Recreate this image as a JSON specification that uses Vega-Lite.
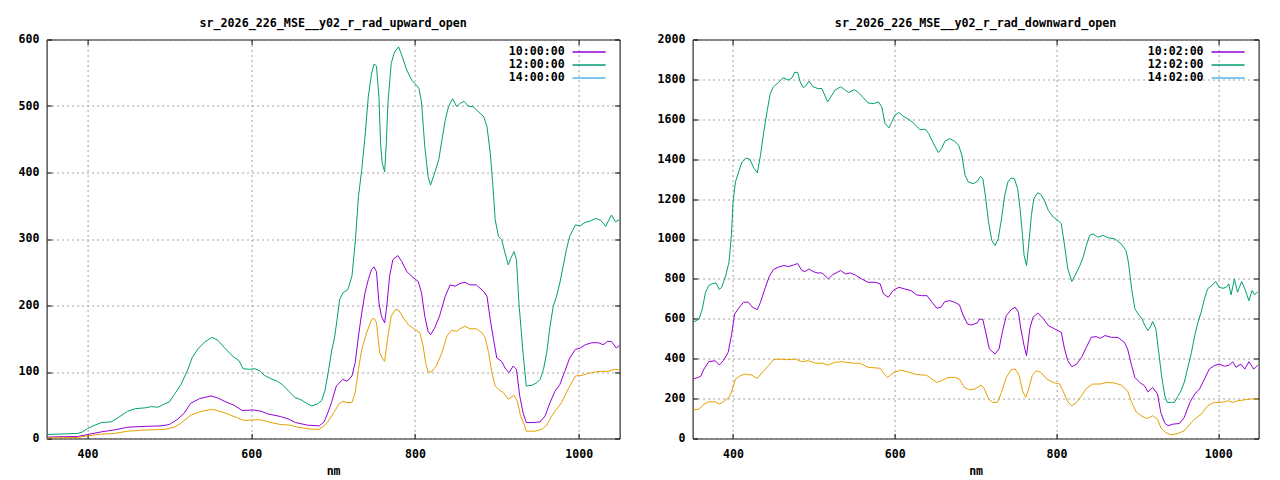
{
  "$schema": "https://vega.github.io/schema/vega-lite/v6.json",
  "padding": {"left": 16.6, "top": 16.5, "right": 0, "bottom": 0},
  "background": "white",
  "datasets": {
    "up": [
      {"t": "10:00:00", "nm": 350, "v": 2}, {"t": "10:00:00", "nm": 360, "v": 2.5}, {"t": "10:00:00", "nm": 388, "v": 3}, {"t": "10:00:00", "nm": 400, "v": 6},
      {"t": "10:00:00", "nm": 417, "v": 10}, {"t": "10:00:00", "nm": 433, "v": 13}, {"t": "10:00:00", "nm": 449, "v": 17}, {"t": "10:00:00", "nm": 465, "v": 18},
      {"t": "10:00:00", "nm": 490, "v": 19}, {"t": "10:00:00", "nm": 500, "v": 21}, {"t": "10:00:00", "nm": 510, "v": 29}, {"t": "10:00:00", "nm": 518, "v": 38},
      {"t": "10:00:00", "nm": 526, "v": 53}, {"t": "10:00:00", "nm": 537, "v": 60}, {"t": "10:00:00", "nm": 551, "v": 64}, {"t": "10:00:00", "nm": 559, "v": 61},
      {"t": "10:00:00", "nm": 569, "v": 55}, {"t": "10:00:00", "nm": 579, "v": 50}, {"t": "10:00:00", "nm": 589, "v": 42}, {"t": "10:00:00", "nm": 602, "v": 43},
      {"t": "10:00:00", "nm": 612, "v": 41}, {"t": "10:00:00", "nm": 620, "v": 37}, {"t": "10:00:00", "nm": 636, "v": 33}, {"t": "10:00:00", "nm": 646, "v": 29},
      {"t": "10:00:00", "nm": 654, "v": 24}, {"t": "10:00:00", "nm": 669, "v": 20}, {"t": "10:00:00", "nm": 683, "v": 19}, {"t": "10:00:00", "nm": 689, "v": 25},
      {"t": "10:00:00", "nm": 694, "v": 40}, {"t": "10:00:00", "nm": 698, "v": 54}, {"t": "10:00:00", "nm": 704, "v": 79}, {"t": "10:00:00", "nm": 712, "v": 89},
      {"t": "10:00:00", "nm": 717, "v": 86}, {"t": "10:00:00", "nm": 723, "v": 94}, {"t": "10:00:00", "nm": 727, "v": 114}, {"t": "10:00:00", "nm": 731, "v": 154},
      {"t": "10:00:00", "nm": 735, "v": 189}, {"t": "10:00:00", "nm": 739, "v": 219}, {"t": "10:00:00", "nm": 743, "v": 239}, {"t": "10:00:00", "nm": 747, "v": 254},
      {"t": "10:00:00", "nm": 750, "v": 258}, {"t": "10:00:00", "nm": 753, "v": 251}, {"t": "10:00:00", "nm": 756, "v": 204}, {"t": "10:00:00", "nm": 759, "v": 184},
      {"t": "10:00:00", "nm": 763, "v": 174}, {"t": "10:00:00", "nm": 766, "v": 204}, {"t": "10:00:00", "nm": 769, "v": 244}, {"t": "10:00:00", "nm": 773, "v": 269},
      {"t": "10:00:00", "nm": 779, "v": 275}, {"t": "10:00:00", "nm": 784, "v": 266}, {"t": "10:00:00", "nm": 790, "v": 251}, {"t": "10:00:00", "nm": 796, "v": 244},
      {"t": "10:00:00", "nm": 804, "v": 236}, {"t": "10:00:00", "nm": 808, "v": 219}, {"t": "10:00:00", "nm": 812, "v": 184}, {"t": "10:00:00", "nm": 816, "v": 161},
      {"t": "10:00:00", "nm": 819, "v": 156}, {"t": "10:00:00", "nm": 824, "v": 166}, {"t": "10:00:00", "nm": 830, "v": 184}, {"t": "10:00:00", "nm": 837, "v": 214},
      {"t": "10:00:00", "nm": 843, "v": 231}, {"t": "10:00:00", "nm": 849, "v": 229}, {"t": "10:00:00", "nm": 855, "v": 233}, {"t": "10:00:00", "nm": 861, "v": 235},
      {"t": "10:00:00", "nm": 867, "v": 231}, {"t": "10:00:00", "nm": 875, "v": 231}, {"t": "10:00:00", "nm": 884, "v": 221}, {"t": "10:00:00", "nm": 888, "v": 214},
      {"t": "10:00:00", "nm": 892, "v": 179}, {"t": "10:00:00", "nm": 896, "v": 149}, {"t": "10:00:00", "nm": 900, "v": 121}, {"t": "10:00:00", "nm": 906, "v": 116},
      {"t": "10:00:00", "nm": 910, "v": 106}, {"t": "10:00:00", "nm": 915, "v": 99}, {"t": "10:00:00", "nm": 920, "v": 109}, {"t": "10:00:00", "nm": 924, "v": 104},
      {"t": "10:00:00", "nm": 928, "v": 64}, {"t": "10:00:00", "nm": 932, "v": 39}, {"t": "10:00:00", "nm": 936, "v": 24}, {"t": "10:00:00", "nm": 945, "v": 24},
      {"t": "10:00:00", "nm": 953, "v": 25}, {"t": "10:00:00", "nm": 959, "v": 34}, {"t": "10:00:00", "nm": 965, "v": 54}, {"t": "10:00:00", "nm": 971, "v": 71},
      {"t": "10:00:00", "nm": 977, "v": 81}, {"t": "10:00:00", "nm": 983, "v": 101}, {"t": "10:00:00", "nm": 989, "v": 121}, {"t": "10:00:00", "nm": 996, "v": 134},
      {"t": "10:00:00", "nm": 1002, "v": 136}, {"t": "10:00:00", "nm": 1008, "v": 141}, {"t": "10:00:00", "nm": 1016, "v": 144}, {"t": "10:00:00", "nm": 1024, "v": 144},
      {"t": "10:00:00", "nm": 1030, "v": 141}, {"t": "10:00:00", "nm": 1035, "v": 146}, {"t": "10:00:00", "nm": 1040, "v": 146}, {"t": "10:00:00", "nm": 1046, "v": 136},
      {"t": "10:00:00", "nm": 1050, "v": 140},
      {"t": "12:00:00", "nm": 350, "v": 6}, {"t": "12:00:00", "nm": 364, "v": 6.6}, {"t": "12:00:00", "nm": 388, "v": 7.6}, {"t": "12:00:00", "nm": 394, "v": 10},
      {"t": "12:00:00", "nm": 400, "v": 15}, {"t": "12:00:00", "nm": 409, "v": 20}, {"t": "12:00:00", "nm": 417, "v": 24}, {"t": "12:00:00", "nm": 429, "v": 25},
      {"t": "12:00:00", "nm": 437, "v": 31}, {"t": "12:00:00", "nm": 449, "v": 41}, {"t": "12:00:00", "nm": 459, "v": 45}, {"t": "12:00:00", "nm": 470, "v": 46},
      {"t": "12:00:00", "nm": 478, "v": 48}, {"t": "12:00:00", "nm": 486, "v": 47}, {"t": "12:00:00", "nm": 494, "v": 52}, {"t": "12:00:00", "nm": 500, "v": 55},
      {"t": "12:00:00", "nm": 506, "v": 66}, {"t": "12:00:00", "nm": 514, "v": 81}, {"t": "12:00:00", "nm": 522, "v": 102}, {"t": "12:00:00", "nm": 528, "v": 122},
      {"t": "12:00:00", "nm": 535, "v": 135}, {"t": "12:00:00", "nm": 543, "v": 145}, {"t": "12:00:00", "nm": 552, "v": 152}, {"t": "12:00:00", "nm": 559, "v": 148},
      {"t": "12:00:00", "nm": 567, "v": 137}, {"t": "12:00:00", "nm": 577, "v": 124}, {"t": "12:00:00", "nm": 585, "v": 117}, {"t": "12:00:00", "nm": 590, "v": 105},
      {"t": "12:00:00", "nm": 598, "v": 104}, {"t": "12:00:00", "nm": 604, "v": 105}, {"t": "12:00:00", "nm": 610, "v": 102}, {"t": "12:00:00", "nm": 616, "v": 95},
      {"t": "12:00:00", "nm": 624, "v": 90}, {"t": "12:00:00", "nm": 632, "v": 86}, {"t": "12:00:00", "nm": 638, "v": 81}, {"t": "12:00:00", "nm": 646, "v": 71},
      {"t": "12:00:00", "nm": 653, "v": 62}, {"t": "12:00:00", "nm": 661, "v": 58}, {"t": "12:00:00", "nm": 669, "v": 52}, {"t": "12:00:00", "nm": 674, "v": 49},
      {"t": "12:00:00", "nm": 681, "v": 52}, {"t": "12:00:00", "nm": 686, "v": 57}, {"t": "12:00:00", "nm": 690, "v": 72}, {"t": "12:00:00", "nm": 694, "v": 99},
      {"t": "12:00:00", "nm": 698, "v": 130}, {"t": "12:00:00", "nm": 702, "v": 154}, {"t": "12:00:00", "nm": 705, "v": 180}, {"t": "12:00:00", "nm": 708, "v": 209},
      {"t": "12:00:00", "nm": 712, "v": 219}, {"t": "12:00:00", "nm": 718, "v": 224}, {"t": "12:00:00", "nm": 723, "v": 244}, {"t": "12:00:00", "nm": 727, "v": 294},
      {"t": "12:00:00", "nm": 731, "v": 364}, {"t": "12:00:00", "nm": 735, "v": 404}, {"t": "12:00:00", "nm": 739, "v": 454}, {"t": "12:00:00", "nm": 743, "v": 514},
      {"t": "12:00:00", "nm": 747, "v": 549}, {"t": "12:00:00", "nm": 750, "v": 563}, {"t": "12:00:00", "nm": 753, "v": 560}, {"t": "12:00:00", "nm": 756, "v": 514},
      {"t": "12:00:00", "nm": 758, "v": 444}, {"t": "12:00:00", "nm": 760, "v": 414}, {"t": "12:00:00", "nm": 763, "v": 401}, {"t": "12:00:00", "nm": 765, "v": 444},
      {"t": "12:00:00", "nm": 767, "v": 504}, {"t": "12:00:00", "nm": 771, "v": 564}, {"t": "12:00:00", "nm": 775, "v": 581}, {"t": "12:00:00", "nm": 780, "v": 589},
      {"t": "12:00:00", "nm": 784, "v": 576}, {"t": "12:00:00", "nm": 790, "v": 554}, {"t": "12:00:00", "nm": 796, "v": 539}, {"t": "12:00:00", "nm": 802, "v": 531},
      {"t": "12:00:00", "nm": 805, "v": 526}, {"t": "12:00:00", "nm": 808, "v": 506}, {"t": "12:00:00", "nm": 812, "v": 439}, {"t": "12:00:00", "nm": 816, "v": 394},
      {"t": "12:00:00", "nm": 819, "v": 381}, {"t": "12:00:00", "nm": 824, "v": 399}, {"t": "12:00:00", "nm": 829, "v": 419}, {"t": "12:00:00", "nm": 833, "v": 449},
      {"t": "12:00:00", "nm": 837, "v": 479}, {"t": "12:00:00", "nm": 841, "v": 499}, {"t": "12:00:00", "nm": 846, "v": 511}, {"t": "12:00:00", "nm": 851, "v": 499},
      {"t": "12:00:00", "nm": 855, "v": 504}, {"t": "12:00:00", "nm": 860, "v": 507}, {"t": "12:00:00", "nm": 865, "v": 500}, {"t": "12:00:00", "nm": 871, "v": 499},
      {"t": "12:00:00", "nm": 877, "v": 492}, {"t": "12:00:00", "nm": 884, "v": 484}, {"t": "12:00:00", "nm": 888, "v": 469}, {"t": "12:00:00", "nm": 892, "v": 429},
      {"t": "12:00:00", "nm": 895, "v": 384}, {"t": "12:00:00", "nm": 898, "v": 329}, {"t": "12:00:00", "nm": 902, "v": 304}, {"t": "12:00:00", "nm": 906, "v": 299},
      {"t": "12:00:00", "nm": 910, "v": 279}, {"t": "12:00:00", "nm": 914, "v": 261}, {"t": "12:00:00", "nm": 917, "v": 271}, {"t": "12:00:00", "nm": 921, "v": 281},
      {"t": "12:00:00", "nm": 924, "v": 269}, {"t": "12:00:00", "nm": 927, "v": 204}, {"t": "12:00:00", "nm": 932, "v": 129}, {"t": "12:00:00", "nm": 936, "v": 79},
      {"t": "12:00:00", "nm": 943, "v": 80}, {"t": "12:00:00", "nm": 949, "v": 84}, {"t": "12:00:00", "nm": 953, "v": 89}, {"t": "12:00:00", "nm": 957, "v": 104},
      {"t": "12:00:00", "nm": 961, "v": 129}, {"t": "12:00:00", "nm": 965, "v": 169}, {"t": "12:00:00", "nm": 969, "v": 199}, {"t": "12:00:00", "nm": 973, "v": 214},
      {"t": "12:00:00", "nm": 977, "v": 234}, {"t": "12:00:00", "nm": 981, "v": 259}, {"t": "12:00:00", "nm": 985, "v": 284}, {"t": "12:00:00", "nm": 989, "v": 304},
      {"t": "12:00:00", "nm": 996, "v": 321}, {"t": "12:00:00", "nm": 1002, "v": 320}, {"t": "12:00:00", "nm": 1008, "v": 325}, {"t": "12:00:00", "nm": 1014, "v": 327},
      {"t": "12:00:00", "nm": 1021, "v": 331}, {"t": "12:00:00", "nm": 1027, "v": 328}, {"t": "12:00:00", "nm": 1033, "v": 319}, {"t": "12:00:00", "nm": 1040, "v": 336},
      {"t": "12:00:00", "nm": 1045, "v": 326}, {"t": "12:00:00", "nm": 1050, "v": 329},
      {"t": "14:00:00", "nm": 350, "v": 1}, {"t": "14:00:00", "nm": 388, "v": 1.5}, {"t": "14:00:00", "nm": 400, "v": 4}, {"t": "14:00:00", "nm": 417, "v": 6.6},
      {"t": "14:00:00", "nm": 433, "v": 7.6}, {"t": "14:00:00", "nm": 449, "v": 11}, {"t": "14:00:00", "nm": 470, "v": 12.7}, {"t": "14:00:00", "nm": 494, "v": 13.7},
      {"t": "14:00:00", "nm": 506, "v": 17}, {"t": "14:00:00", "nm": 514, "v": 23}, {"t": "14:00:00", "nm": 526, "v": 35}, {"t": "14:00:00", "nm": 537, "v": 40},
      {"t": "14:00:00", "nm": 551, "v": 44}, {"t": "14:00:00", "nm": 559, "v": 42}, {"t": "14:00:00", "nm": 571, "v": 37}, {"t": "14:00:00", "nm": 583, "v": 31},
      {"t": "14:00:00", "nm": 592, "v": 27}, {"t": "14:00:00", "nm": 600, "v": 28}, {"t": "14:00:00", "nm": 612, "v": 28}, {"t": "14:00:00", "nm": 624, "v": 24},
      {"t": "14:00:00", "nm": 636, "v": 21}, {"t": "14:00:00", "nm": 648, "v": 20}, {"t": "14:00:00", "nm": 657, "v": 17}, {"t": "14:00:00", "nm": 673, "v": 14},
      {"t": "14:00:00", "nm": 683, "v": 14}, {"t": "14:00:00", "nm": 689, "v": 19}, {"t": "14:00:00", "nm": 694, "v": 26}, {"t": "14:00:00", "nm": 702, "v": 41},
      {"t": "14:00:00", "nm": 707, "v": 52}, {"t": "14:00:00", "nm": 712, "v": 56}, {"t": "14:00:00", "nm": 717, "v": 54}, {"t": "14:00:00", "nm": 723, "v": 54},
      {"t": "14:00:00", "nm": 727, "v": 69}, {"t": "14:00:00", "nm": 731, "v": 104}, {"t": "14:00:00", "nm": 735, "v": 134}, {"t": "14:00:00", "nm": 741, "v": 159},
      {"t": "14:00:00", "nm": 747, "v": 179}, {"t": "14:00:00", "nm": 750, "v": 181}, {"t": "14:00:00", "nm": 753, "v": 174}, {"t": "14:00:00", "nm": 757, "v": 129},
      {"t": "14:00:00", "nm": 760, "v": 121}, {"t": "14:00:00", "nm": 763, "v": 116}, {"t": "14:00:00", "nm": 767, "v": 154}, {"t": "14:00:00", "nm": 771, "v": 184},
      {"t": "14:00:00", "nm": 776, "v": 194}, {"t": "14:00:00", "nm": 780, "v": 193}, {"t": "14:00:00", "nm": 786, "v": 181}, {"t": "14:00:00", "nm": 792, "v": 171},
      {"t": "14:00:00", "nm": 800, "v": 164}, {"t": "14:00:00", "nm": 806, "v": 159}, {"t": "14:00:00", "nm": 810, "v": 139}, {"t": "14:00:00", "nm": 813, "v": 114},
      {"t": "14:00:00", "nm": 816, "v": 100}, {"t": "14:00:00", "nm": 820, "v": 100}, {"t": "14:00:00", "nm": 826, "v": 109}, {"t": "14:00:00", "nm": 833, "v": 129},
      {"t": "14:00:00", "nm": 839, "v": 154}, {"t": "14:00:00", "nm": 845, "v": 163}, {"t": "14:00:00", "nm": 851, "v": 161}, {"t": "14:00:00", "nm": 855, "v": 165},
      {"t": "14:00:00", "nm": 861, "v": 169}, {"t": "14:00:00", "nm": 867, "v": 165}, {"t": "14:00:00", "nm": 875, "v": 165}, {"t": "14:00:00", "nm": 882, "v": 159},
      {"t": "14:00:00", "nm": 886, "v": 151}, {"t": "14:00:00", "nm": 890, "v": 129}, {"t": "14:00:00", "nm": 894, "v": 99}, {"t": "14:00:00", "nm": 898, "v": 79},
      {"t": "14:00:00", "nm": 902, "v": 74}, {"t": "14:00:00", "nm": 908, "v": 69}, {"t": "14:00:00", "nm": 914, "v": 59}, {"t": "14:00:00", "nm": 921, "v": 65},
      {"t": "14:00:00", "nm": 925, "v": 56}, {"t": "14:00:00", "nm": 929, "v": 34}, {"t": "14:00:00", "nm": 934, "v": 19}, {"t": "14:00:00", "nm": 936, "v": 11},
      {"t": "14:00:00", "nm": 947, "v": 11}, {"t": "14:00:00", "nm": 955, "v": 14}, {"t": "14:00:00", "nm": 961, "v": 20}, {"t": "14:00:00", "nm": 967, "v": 34},
      {"t": "14:00:00", "nm": 973, "v": 44}, {"t": "14:00:00", "nm": 979, "v": 54}, {"t": "14:00:00", "nm": 987, "v": 74}, {"t": "14:00:00", "nm": 996, "v": 94},
      {"t": "14:00:00", "nm": 1004, "v": 95}, {"t": "14:00:00", "nm": 1012, "v": 98}, {"t": "14:00:00", "nm": 1020, "v": 100}, {"t": "14:00:00", "nm": 1028, "v": 101},
      {"t": "14:00:00", "nm": 1036, "v": 101}, {"t": "14:00:00", "nm": 1044, "v": 104}, {"t": "14:00:00", "nm": 1050, "v": 103}
    ],
    "down": [
      {"t": "10:02:00", "nm": 351, "v": 298}, {"t": "10:02:00", "nm": 360, "v": 311}, {"t": "10:02:00", "nm": 364, "v": 348}, {"t": "10:02:00", "nm": 370, "v": 385},
      {"t": "10:02:00", "nm": 378, "v": 390}, {"t": "10:02:00", "nm": 383, "v": 368}, {"t": "10:02:00", "nm": 388, "v": 390}, {"t": "10:02:00", "nm": 394, "v": 432},
      {"t": "10:02:00", "nm": 398, "v": 516}, {"t": "10:02:00", "nm": 402, "v": 624}, {"t": "10:02:00", "nm": 407, "v": 653}, {"t": "10:02:00", "nm": 413, "v": 683},
      {"t": "10:02:00", "nm": 419, "v": 683}, {"t": "10:02:00", "nm": 424, "v": 658}, {"t": "10:02:00", "nm": 430, "v": 646}, {"t": "10:02:00", "nm": 434, "v": 683},
      {"t": "10:02:00", "nm": 440, "v": 758}, {"t": "10:02:00", "nm": 445, "v": 814}, {"t": "10:02:00", "nm": 450, "v": 847}, {"t": "10:02:00", "nm": 456, "v": 859},
      {"t": "10:02:00", "nm": 463, "v": 867}, {"t": "10:02:00", "nm": 469, "v": 862}, {"t": "10:02:00", "nm": 475, "v": 870}, {"t": "10:02:00", "nm": 480, "v": 877},
      {"t": "10:02:00", "nm": 485, "v": 842}, {"t": "10:02:00", "nm": 489, "v": 837}, {"t": "10:02:00", "nm": 494, "v": 850}, {"t": "10:02:00", "nm": 499, "v": 837},
      {"t": "10:02:00", "nm": 504, "v": 830}, {"t": "10:02:00", "nm": 510, "v": 830}, {"t": "10:02:00", "nm": 518, "v": 800}, {"t": "10:02:00", "nm": 523, "v": 820},
      {"t": "10:02:00", "nm": 533, "v": 842}, {"t": "10:02:00", "nm": 539, "v": 825}, {"t": "10:02:00", "nm": 545, "v": 830}, {"t": "10:02:00", "nm": 551, "v": 820},
      {"t": "10:02:00", "nm": 559, "v": 800}, {"t": "10:02:00", "nm": 567, "v": 783}, {"t": "10:02:00", "nm": 576, "v": 783}, {"t": "10:02:00", "nm": 582, "v": 775},
      {"t": "10:02:00", "nm": 586, "v": 725}, {"t": "10:02:00", "nm": 592, "v": 708}, {"t": "10:02:00", "nm": 598, "v": 742}, {"t": "10:02:00", "nm": 605, "v": 758},
      {"t": "10:02:00", "nm": 612, "v": 750}, {"t": "10:02:00", "nm": 620, "v": 742}, {"t": "10:02:00", "nm": 627, "v": 720}, {"t": "10:02:00", "nm": 633, "v": 716},
      {"t": "10:02:00", "nm": 640, "v": 716}, {"t": "10:02:00", "nm": 646, "v": 683}, {"t": "10:02:00", "nm": 652, "v": 653}, {"t": "10:02:00", "nm": 657, "v": 658},
      {"t": "10:02:00", "nm": 662, "v": 686}, {"t": "10:02:00", "nm": 668, "v": 691}, {"t": "10:02:00", "nm": 674, "v": 683}, {"t": "10:02:00", "nm": 680, "v": 670},
      {"t": "10:02:00", "nm": 684, "v": 624}, {"t": "10:02:00", "nm": 690, "v": 574}, {"t": "10:02:00", "nm": 695, "v": 569}, {"t": "10:02:00", "nm": 702, "v": 579},
      {"t": "10:02:00", "nm": 705, "v": 599}, {"t": "10:02:00", "nm": 709, "v": 596}, {"t": "10:02:00", "nm": 713, "v": 524}, {"t": "10:02:00", "nm": 717, "v": 449},
      {"t": "10:02:00", "nm": 724, "v": 424}, {"t": "10:02:00", "nm": 729, "v": 449}, {"t": "10:02:00", "nm": 733, "v": 532}, {"t": "10:02:00", "nm": 738, "v": 616},
      {"t": "10:02:00", "nm": 744, "v": 646}, {"t": "10:02:00", "nm": 749, "v": 658}, {"t": "10:02:00", "nm": 753, "v": 633}, {"t": "10:02:00", "nm": 756, "v": 549},
      {"t": "10:02:00", "nm": 760, "v": 465}, {"t": "10:02:00", "nm": 763, "v": 415}, {"t": "10:02:00", "nm": 767, "v": 549}, {"t": "10:02:00", "nm": 771, "v": 608},
      {"t": "10:02:00", "nm": 777, "v": 629}, {"t": "10:02:00", "nm": 784, "v": 599}, {"t": "10:02:00", "nm": 790, "v": 566}, {"t": "10:02:00", "nm": 798, "v": 549},
      {"t": "10:02:00", "nm": 806, "v": 532}, {"t": "10:02:00", "nm": 810, "v": 449}, {"t": "10:02:00", "nm": 814, "v": 390}, {"t": "10:02:00", "nm": 819, "v": 360},
      {"t": "10:02:00", "nm": 825, "v": 373}, {"t": "10:02:00", "nm": 831, "v": 407}, {"t": "10:02:00", "nm": 837, "v": 457}, {"t": "10:02:00", "nm": 843, "v": 507},
      {"t": "10:02:00", "nm": 849, "v": 511}, {"t": "10:02:00", "nm": 854, "v": 502}, {"t": "10:02:00", "nm": 860, "v": 516}, {"t": "10:02:00", "nm": 868, "v": 507},
      {"t": "10:02:00", "nm": 876, "v": 507}, {"t": "10:02:00", "nm": 884, "v": 482}, {"t": "10:02:00", "nm": 888, "v": 449}, {"t": "10:02:00", "nm": 893, "v": 365},
      {"t": "10:02:00", "nm": 897, "v": 306}, {"t": "10:02:00", "nm": 903, "v": 281}, {"t": "10:02:00", "nm": 909, "v": 264}, {"t": "10:02:00", "nm": 913, "v": 234},
      {"t": "10:02:00", "nm": 919, "v": 256}, {"t": "10:02:00", "nm": 925, "v": 223}, {"t": "10:02:00", "nm": 929, "v": 131}, {"t": "10:02:00", "nm": 934, "v": 77},
      {"t": "10:02:00", "nm": 938, "v": 64}, {"t": "10:02:00", "nm": 944, "v": 72}, {"t": "10:02:00", "nm": 952, "v": 75}, {"t": "10:02:00", "nm": 958, "v": 105},
      {"t": "10:02:00", "nm": 965, "v": 181}, {"t": "10:02:00", "nm": 971, "v": 223}, {"t": "10:02:00", "nm": 977, "v": 248}, {"t": "10:02:00", "nm": 983, "v": 298},
      {"t": "10:02:00", "nm": 989, "v": 348}, {"t": "10:02:00", "nm": 995, "v": 365}, {"t": "10:02:00", "nm": 1001, "v": 373}, {"t": "10:02:00", "nm": 1008, "v": 362},
      {"t": "10:02:00", "nm": 1014, "v": 368}, {"t": "10:02:00", "nm": 1018, "v": 385}, {"t": "10:02:00", "nm": 1022, "v": 357}, {"t": "10:02:00", "nm": 1028, "v": 373},
      {"t": "10:02:00", "nm": 1033, "v": 348}, {"t": "10:02:00", "nm": 1038, "v": 385}, {"t": "10:02:00", "nm": 1044, "v": 348}, {"t": "10:02:00", "nm": 1049, "v": 368},
      {"t": "12:02:00", "nm": 351, "v": 583}, {"t": "12:02:00", "nm": 358, "v": 599}, {"t": "12:02:00", "nm": 362, "v": 650}, {"t": "12:02:00", "nm": 366, "v": 733},
      {"t": "12:02:00", "nm": 370, "v": 767}, {"t": "12:02:00", "nm": 374, "v": 775}, {"t": "12:02:00", "nm": 379, "v": 780}, {"t": "12:02:00", "nm": 383, "v": 747},
      {"t": "12:02:00", "nm": 386, "v": 758}, {"t": "12:02:00", "nm": 391, "v": 817}, {"t": "12:02:00", "nm": 395, "v": 884}, {"t": "12:02:00", "nm": 398, "v": 1018},
      {"t": "12:02:00", "nm": 400, "v": 1185}, {"t": "12:02:00", "nm": 403, "v": 1286}, {"t": "12:02:00", "nm": 407, "v": 1336}, {"t": "12:02:00", "nm": 411, "v": 1386},
      {"t": "12:02:00", "nm": 416, "v": 1406}, {"t": "12:02:00", "nm": 421, "v": 1399}, {"t": "12:02:00", "nm": 426, "v": 1353}, {"t": "12:02:00", "nm": 430, "v": 1332},
      {"t": "12:02:00", "nm": 434, "v": 1420}, {"t": "12:02:00", "nm": 438, "v": 1537}, {"t": "12:02:00", "nm": 442, "v": 1637}, {"t": "12:02:00", "nm": 446, "v": 1729},
      {"t": "12:02:00", "nm": 450, "v": 1763}, {"t": "12:02:00", "nm": 456, "v": 1784}, {"t": "12:02:00", "nm": 462, "v": 1808}, {"t": "12:02:00", "nm": 469, "v": 1796},
      {"t": "12:02:00", "nm": 473, "v": 1808}, {"t": "12:02:00", "nm": 476, "v": 1835}, {"t": "12:02:00", "nm": 480, "v": 1835}, {"t": "12:02:00", "nm": 483, "v": 1788},
      {"t": "12:02:00", "nm": 487, "v": 1758}, {"t": "12:02:00", "nm": 490, "v": 1768}, {"t": "12:02:00", "nm": 494, "v": 1791}, {"t": "12:02:00", "nm": 499, "v": 1763},
      {"t": "12:02:00", "nm": 505, "v": 1754}, {"t": "12:02:00", "nm": 510, "v": 1754}, {"t": "12:02:00", "nm": 517, "v": 1687}, {"t": "12:02:00", "nm": 521, "v": 1712},
      {"t": "12:02:00", "nm": 526, "v": 1746}, {"t": "12:02:00", "nm": 533, "v": 1763}, {"t": "12:02:00", "nm": 538, "v": 1749}, {"t": "12:02:00", "nm": 543, "v": 1734},
      {"t": "12:02:00", "nm": 550, "v": 1749}, {"t": "12:02:00", "nm": 555, "v": 1734}, {"t": "12:02:00", "nm": 561, "v": 1709}, {"t": "12:02:00", "nm": 567, "v": 1682},
      {"t": "12:02:00", "nm": 574, "v": 1679}, {"t": "12:02:00", "nm": 580, "v": 1687}, {"t": "12:02:00", "nm": 584, "v": 1662}, {"t": "12:02:00", "nm": 588, "v": 1579},
      {"t": "12:02:00", "nm": 593, "v": 1557}, {"t": "12:02:00", "nm": 596, "v": 1584}, {"t": "12:02:00", "nm": 600, "v": 1620}, {"t": "12:02:00", "nm": 605, "v": 1634},
      {"t": "12:02:00", "nm": 610, "v": 1617}, {"t": "12:02:00", "nm": 619, "v": 1595}, {"t": "12:02:00", "nm": 625, "v": 1574}, {"t": "12:02:00", "nm": 631, "v": 1548},
      {"t": "12:02:00", "nm": 638, "v": 1550}, {"t": "12:02:00", "nm": 642, "v": 1528}, {"t": "12:02:00", "nm": 648, "v": 1478}, {"t": "12:02:00", "nm": 654, "v": 1433},
      {"t": "12:02:00", "nm": 658, "v": 1453}, {"t": "12:02:00", "nm": 662, "v": 1490}, {"t": "12:02:00", "nm": 668, "v": 1503}, {"t": "12:02:00", "nm": 674, "v": 1490},
      {"t": "12:02:00", "nm": 679, "v": 1470}, {"t": "12:02:00", "nm": 683, "v": 1420}, {"t": "12:02:00", "nm": 687, "v": 1319}, {"t": "12:02:00", "nm": 691, "v": 1286},
      {"t": "12:02:00", "nm": 697, "v": 1277}, {"t": "12:02:00", "nm": 702, "v": 1289}, {"t": "12:02:00", "nm": 706, "v": 1314}, {"t": "12:02:00", "nm": 709, "v": 1302},
      {"t": "12:02:00", "nm": 712, "v": 1219}, {"t": "12:02:00", "nm": 716, "v": 1085}, {"t": "12:02:00", "nm": 720, "v": 993}, {"t": "12:02:00", "nm": 724, "v": 968},
      {"t": "12:02:00", "nm": 728, "v": 1001}, {"t": "12:02:00", "nm": 732, "v": 1101}, {"t": "12:02:00", "nm": 736, "v": 1219}, {"t": "12:02:00", "nm": 740, "v": 1286},
      {"t": "12:02:00", "nm": 744, "v": 1306}, {"t": "12:02:00", "nm": 748, "v": 1302}, {"t": "12:02:00", "nm": 752, "v": 1252}, {"t": "12:02:00", "nm": 755, "v": 1152},
      {"t": "12:02:00", "nm": 758, "v": 1018}, {"t": "12:02:00", "nm": 760, "v": 917}, {"t": "12:02:00", "nm": 763, "v": 867}, {"t": "12:02:00", "nm": 766, "v": 984},
      {"t": "12:02:00", "nm": 769, "v": 1118}, {"t": "12:02:00", "nm": 772, "v": 1202}, {"t": "12:02:00", "nm": 777, "v": 1232}, {"t": "12:02:00", "nm": 781, "v": 1222},
      {"t": "12:02:00", "nm": 785, "v": 1194}, {"t": "12:02:00", "nm": 790, "v": 1143}, {"t": "12:02:00", "nm": 796, "v": 1110}, {"t": "12:02:00", "nm": 802, "v": 1093},
      {"t": "12:02:00", "nm": 806, "v": 1076}, {"t": "12:02:00", "nm": 810, "v": 968}, {"t": "12:02:00", "nm": 814, "v": 850}, {"t": "12:02:00", "nm": 819, "v": 787},
      {"t": "12:02:00", "nm": 823, "v": 817}, {"t": "12:02:00", "nm": 829, "v": 867}, {"t": "12:02:00", "nm": 833, "v": 909}, {"t": "12:02:00", "nm": 837, "v": 968},
      {"t": "12:02:00", "nm": 841, "v": 1018}, {"t": "12:02:00", "nm": 845, "v": 1026}, {"t": "12:02:00", "nm": 851, "v": 1009}, {"t": "12:02:00", "nm": 858, "v": 1018},
      {"t": "12:02:00", "nm": 864, "v": 1006}, {"t": "12:02:00", "nm": 872, "v": 1001}, {"t": "12:02:00", "nm": 880, "v": 976}, {"t": "12:02:00", "nm": 886, "v": 942},
      {"t": "12:02:00", "nm": 889, "v": 884}, {"t": "12:02:00", "nm": 893, "v": 750}, {"t": "12:02:00", "nm": 897, "v": 650}, {"t": "12:02:00", "nm": 901, "v": 624},
      {"t": "12:02:00", "nm": 906, "v": 599}, {"t": "12:02:00", "nm": 909, "v": 569}, {"t": "12:02:00", "nm": 913, "v": 541}, {"t": "12:02:00", "nm": 917, "v": 566},
      {"t": "12:02:00", "nm": 919, "v": 586}, {"t": "12:02:00", "nm": 923, "v": 549}, {"t": "12:02:00", "nm": 926, "v": 449}, {"t": "12:02:00", "nm": 930, "v": 315},
      {"t": "12:02:00", "nm": 934, "v": 214}, {"t": "12:02:00", "nm": 937, "v": 181}, {"t": "12:02:00", "nm": 942, "v": 181}, {"t": "12:02:00", "nm": 946, "v": 181},
      {"t": "12:02:00", "nm": 950, "v": 211}, {"t": "12:02:00", "nm": 954, "v": 239}, {"t": "12:02:00", "nm": 958, "v": 281}, {"t": "12:02:00", "nm": 962, "v": 348},
      {"t": "12:02:00", "nm": 967, "v": 432}, {"t": "12:02:00", "nm": 971, "v": 516}, {"t": "12:02:00", "nm": 975, "v": 583}, {"t": "12:02:00", "nm": 979, "v": 633},
      {"t": "12:02:00", "nm": 983, "v": 700}, {"t": "12:02:00", "nm": 987, "v": 750}, {"t": "12:02:00", "nm": 991, "v": 763}, {"t": "12:02:00", "nm": 997, "v": 787},
      {"t": "12:02:00", "nm": 1001, "v": 758}, {"t": "12:02:00", "nm": 1006, "v": 753}, {"t": "12:02:00", "nm": 1010, "v": 758}, {"t": "12:02:00", "nm": 1013, "v": 775},
      {"t": "12:02:00", "nm": 1016, "v": 720}, {"t": "12:02:00", "nm": 1020, "v": 800}, {"t": "12:02:00", "nm": 1024, "v": 733}, {"t": "12:02:00", "nm": 1029, "v": 787},
      {"t": "12:02:00", "nm": 1033, "v": 750}, {"t": "12:02:00", "nm": 1038, "v": 691}, {"t": "12:02:00", "nm": 1042, "v": 742}, {"t": "12:02:00", "nm": 1045, "v": 720},
      {"t": "12:02:00", "nm": 1049, "v": 737},
      {"t": "14:02:00", "nm": 351, "v": 144}, {"t": "14:02:00", "nm": 358, "v": 147}, {"t": "14:02:00", "nm": 364, "v": 172}, {"t": "14:02:00", "nm": 370, "v": 184},
      {"t": "14:02:00", "nm": 378, "v": 184}, {"t": "14:02:00", "nm": 383, "v": 172}, {"t": "14:02:00", "nm": 388, "v": 184}, {"t": "14:02:00", "nm": 395, "v": 206},
      {"t": "14:02:00", "nm": 398, "v": 231}, {"t": "14:02:00", "nm": 403, "v": 298}, {"t": "14:02:00", "nm": 409, "v": 315}, {"t": "14:02:00", "nm": 415, "v": 323},
      {"t": "14:02:00", "nm": 423, "v": 318}, {"t": "14:02:00", "nm": 430, "v": 301}, {"t": "14:02:00", "nm": 436, "v": 331}, {"t": "14:02:00", "nm": 444, "v": 365},
      {"t": "14:02:00", "nm": 450, "v": 395}, {"t": "14:02:00", "nm": 458, "v": 398}, {"t": "14:02:00", "nm": 467, "v": 395}, {"t": "14:02:00", "nm": 477, "v": 398},
      {"t": "14:02:00", "nm": 485, "v": 385}, {"t": "14:02:00", "nm": 493, "v": 390}, {"t": "14:02:00", "nm": 502, "v": 377}, {"t": "14:02:00", "nm": 510, "v": 378},
      {"t": "14:02:00", "nm": 517, "v": 368}, {"t": "14:02:00", "nm": 526, "v": 382}, {"t": "14:02:00", "nm": 535, "v": 385}, {"t": "14:02:00", "nm": 547, "v": 378},
      {"t": "14:02:00", "nm": 557, "v": 377}, {"t": "14:02:00", "nm": 567, "v": 357}, {"t": "14:02:00", "nm": 582, "v": 352}, {"t": "14:02:00", "nm": 587, "v": 323},
      {"t": "14:02:00", "nm": 591, "v": 306}, {"t": "14:02:00", "nm": 598, "v": 328}, {"t": "14:02:00", "nm": 607, "v": 343}, {"t": "14:02:00", "nm": 615, "v": 335},
      {"t": "14:02:00", "nm": 625, "v": 323}, {"t": "14:02:00", "nm": 633, "v": 318}, {"t": "14:02:00", "nm": 639, "v": 318}, {"t": "14:02:00", "nm": 646, "v": 298},
      {"t": "14:02:00", "nm": 652, "v": 281}, {"t": "14:02:00", "nm": 658, "v": 290}, {"t": "14:02:00", "nm": 666, "v": 306}, {"t": "14:02:00", "nm": 674, "v": 306},
      {"t": "14:02:00", "nm": 680, "v": 298}, {"t": "14:02:00", "nm": 686, "v": 256}, {"t": "14:02:00", "nm": 693, "v": 244}, {"t": "14:02:00", "nm": 699, "v": 248},
      {"t": "14:02:00", "nm": 707, "v": 268}, {"t": "14:02:00", "nm": 711, "v": 248}, {"t": "14:02:00", "nm": 716, "v": 198}, {"t": "14:02:00", "nm": 721, "v": 181},
      {"t": "14:02:00", "nm": 727, "v": 181}, {"t": "14:02:00", "nm": 732, "v": 231}, {"t": "14:02:00", "nm": 738, "v": 306}, {"t": "14:02:00", "nm": 744, "v": 345},
      {"t": "14:02:00", "nm": 749, "v": 348}, {"t": "14:02:00", "nm": 754, "v": 315}, {"t": "14:02:00", "nm": 758, "v": 239}, {"t": "14:02:00", "nm": 762, "v": 206},
      {"t": "14:02:00", "nm": 765, "v": 239}, {"t": "14:02:00", "nm": 770, "v": 315}, {"t": "14:02:00", "nm": 775, "v": 340}, {"t": "14:02:00", "nm": 781, "v": 331},
      {"t": "14:02:00", "nm": 788, "v": 298}, {"t": "14:02:00", "nm": 796, "v": 281}, {"t": "14:02:00", "nm": 804, "v": 273}, {"t": "14:02:00", "nm": 808, "v": 239},
      {"t": "14:02:00", "nm": 814, "v": 184}, {"t": "14:02:00", "nm": 819, "v": 164}, {"t": "14:02:00", "nm": 825, "v": 181}, {"t": "14:02:00", "nm": 831, "v": 214},
      {"t": "14:02:00", "nm": 837, "v": 251}, {"t": "14:02:00", "nm": 845, "v": 273}, {"t": "14:02:00", "nm": 854, "v": 273}, {"t": "14:02:00", "nm": 862, "v": 281},
      {"t": "14:02:00", "nm": 872, "v": 278}, {"t": "14:02:00", "nm": 880, "v": 268}, {"t": "14:02:00", "nm": 888, "v": 239}, {"t": "14:02:00", "nm": 893, "v": 181},
      {"t": "14:02:00", "nm": 899, "v": 131}, {"t": "14:02:00", "nm": 905, "v": 114}, {"t": "14:02:00", "nm": 911, "v": 100}, {"t": "14:02:00", "nm": 915, "v": 105},
      {"t": "14:02:00", "nm": 919, "v": 114}, {"t": "14:02:00", "nm": 925, "v": 97}, {"t": "14:02:00", "nm": 929, "v": 55}, {"t": "14:02:00", "nm": 935, "v": 30},
      {"t": "14:02:00", "nm": 942, "v": 18}, {"t": "14:02:00", "nm": 950, "v": 25}, {"t": "14:02:00", "nm": 958, "v": 38}, {"t": "14:02:00", "nm": 965, "v": 72},
      {"t": "14:02:00", "nm": 971, "v": 97}, {"t": "14:02:00", "nm": 979, "v": 122}, {"t": "14:02:00", "nm": 987, "v": 164}, {"t": "14:02:00", "nm": 995, "v": 181},
      {"t": "14:02:00", "nm": 1004, "v": 181}, {"t": "14:02:00", "nm": 1012, "v": 189}, {"t": "14:02:00", "nm": 1018, "v": 181}, {"t": "14:02:00", "nm": 1024, "v": 189},
      {"t": "14:02:00", "nm": 1033, "v": 194}, {"t": "14:02:00", "nm": 1041, "v": 198}, {"t": "14:02:00", "nm": 1049, "v": 198}
    ]
  },
  "hconcat": [
    {
      "title": "sr_2026_226_MSE__y02_r_rad_upward_open",
      "width": 573,
      "height": 399,
      "data": {"name": "up"},
      "layer": [
        {
          "transform": [{"filter": "datum.t != '14:00:00'"}],
          "mark": {"type": "line", "strokeWidth": 1},
          "encoding": {
            "x": {"field": "nm", "type": "quantitative", "title": "nm",
              "scale": {"domain": [350, 1050], "nice": false, "zero": false},
              "axis": {"values": [400, 600, 800, 1000], "format": "d"}},
            "y": {"field": "v", "type": "quantitative", "title": null,
              "scale": {"domain": [0, 600], "nice": false},
              "axis": {"values": [0, 100, 200, 300, 400, 500, 600], "format": "d"}},
            "color": {"field": "t", "type": "nominal",
              "scale": {"domain": ["10:00:00", "12:00:00", "14:00:00"], "range": ["#9400D3", "#009E73", "#56B4E9"]},
              "legend": {"title": null}}
          }
        },
        {
          "transform": [{"filter": "datum.t == '14:00:00'"}],
          "mark": {"type": "line", "strokeWidth": 1, "color": "#E69F00"},
          "encoding": {
            "x": {"field": "nm", "type": "quantitative",
              "scale": {"domain": [350, 1050], "nice": false, "zero": false},
              "axis": {"orient": "top", "values": [400, 600, 800, 1000], "labels": false, "grid": false, "title": null}},
            "y": {"field": "v", "type": "quantitative",
              "scale": {"domain": [0, 600], "nice": false},
              "axis": {"orient": "right", "values": [0, 100, 200, 300, 400, 500, 600], "labels": false, "grid": false, "title": null}}
          }
        }
      ],
      "resolve": {"axis": {"x": "independent", "y": "independent"}}
    },
    {
      "title": "sr_2026_226_MSE__y02_r_rad_downward_open",
      "width": 566,
      "height": 399,
      "data": {"name": "down"},
      "layer": [
        {
          "transform": [{"filter": "datum.t != '14:02:00'"}],
          "mark": {"type": "line", "strokeWidth": 1},
          "encoding": {
            "x": {"field": "nm", "type": "quantitative", "title": "nm",
              "scale": {"domain": [350, 1050], "nice": false, "zero": false},
              "axis": {"values": [400, 600, 800, 1000], "format": "d"}},
            "y": {"field": "v", "type": "quantitative", "title": null,
              "scale": {"domain": [0, 2000], "nice": false},
              "axis": {"values": [0, 200, 400, 600, 800, 1000, 1200, 1400, 1600, 1800, 2000], "format": "d"}},
            "color": {"field": "t", "type": "nominal",
              "scale": {"domain": ["10:02:00", "12:02:00", "14:02:00"], "range": ["#9400D3", "#009E73", "#56B4E9"]},
              "legend": {"title": null}}
          }
        },
        {
          "transform": [{"filter": "datum.t == '14:02:00'"}],
          "mark": {"type": "line", "strokeWidth": 1, "color": "#E69F00"},
          "encoding": {
            "x": {"field": "nm", "type": "quantitative",
              "scale": {"domain": [350, 1050], "nice": false, "zero": false},
              "axis": {"orient": "top", "values": [400, 600, 800, 1000], "labels": false, "grid": false, "title": null}},
            "y": {"field": "v", "type": "quantitative",
              "scale": {"domain": [0, 2000], "nice": false},
              "axis": {"orient": "right", "values": [0, 200, 400, 600, 800, 1000, 1200, 1400, 1600, 1800, 2000], "labels": false, "grid": false, "title": null}}
          }
        }
      ],
      "resolve": {"axis": {"x": "independent", "y": "independent"}}
    }
  ],
  "spacing": 33,
  "resolve": {"scale": {"color": "independent"}, "legend": {"color": "independent"}},
  "config": {
    "font": "DejaVu Sans Mono",
    "view": {"stroke": "#000000", "strokeWidth": 1},
    "title": {"font": "DejaVu Sans Mono", "fontSize": 11.7, "fontWeight": "bold", "color": "#000000", "anchor": "middle", "offset": 4.3},
    "axis": {
      "domain": false,
      "tickSize": -5,
      "tickColor": "#000000",
      "tickWidth": 1,
      "labelFont": "DejaVu Sans Mono",
      "labelFontSize": 11.6,
      "labelFontWeight": "bold",
      "labelColor": "#000000",
      "labelPadding": 12.7,
      "titleFont": "DejaVu Sans Mono",
      "titleFontSize": 11.6,
      "titleFontWeight": "bold",
      "titleColor": "#000000",
      "titlePadding": 5.7,
      "gridColor": "#a0a0a0",
      "gridDash": [2, 3],
      "gridWidth": 1,
      "gridOpacity": 1
    },
    "axisX": {"labelPadding": 14.7},
    "legend": {
      "orient": "top-right",
      "offset": 4,
      "padding": 2,
      "symbolType": "M-3,0H3M3.9,0",
      "symbolSize": 121,
      "symbolStrokeWidth": 1.5,
      "labelAlign": "right",
      "labelOffset": -31,
      "labelFont": "DejaVu Sans Mono",
      "labelFontSize": 11.6,
      "labelFontWeight": "bold",
      "labelColor": "#000000",
      "rowPadding": -0.5
    }
  }
}
